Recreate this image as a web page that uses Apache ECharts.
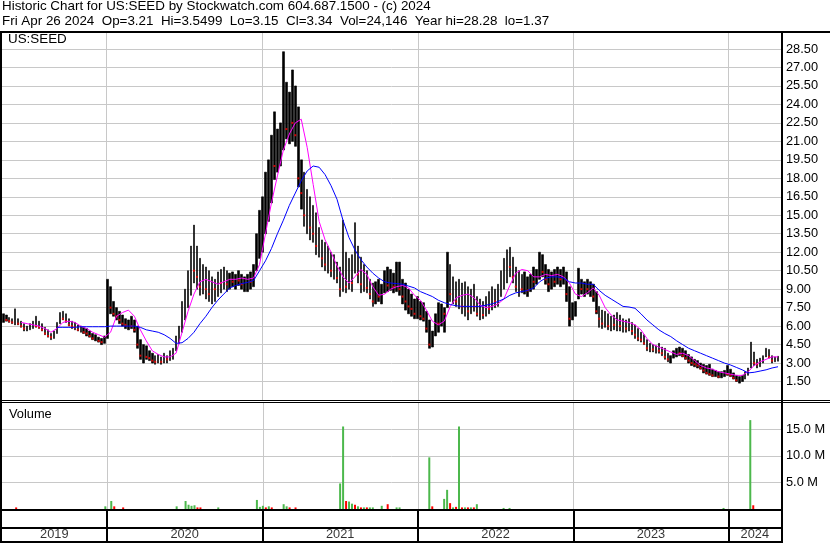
<!DOCTYPE html>
<html><head><meta charset="utf-8">
<script src="https://cdn.jsdelivr.net/npm/echarts@6/dist/echarts.min.js"></script>
<style>html,body{margin:0;padding:0;background:#fff}#c{width:830px;height:543px}</style>
</head><body><div id="c"></div>
<script>
const titleLine1 = 'Historic Chart for US:SEED by Stockwatch.com 604.687.1500 - (c) 2024';
const titleLine2 = 'Fri Apr 26 2024  Op=3.21  Hi=3.5499  Lo=3.15  Cl=3.34  Vol=24,146  Year hi=28.28  lo=1.37';
const symbolName = 'US:SEED';
const volumeName = 'Volume';
const years = [2019, 2020, 2021, 2022, 2023, 2024];
const priceStep = 1.5;
const volStep = 5;
const volLabelMax = 15;

// weekly bars, first week ending Fri 2019-05-03, last week ending Fri 2024-04-26
const wkLow = [
 6.3,6.4,6.3,6.2,6.1,6.1,5.9,5.6,5.6,5.7,
 5.8,5.9,5.8,5.6,5.3,5.1,4.9,5.0,5.4,6.2,
 6.5,6.3,6.0,5.8,5.7,5.6,5.5,5.4,5.2,5.1,
 4.9,4.8,4.7,4.5,4.6,5.0,7.0,6.8,6.5,6.2,
 6.0,5.8,5.7,5.8,5.5,4.2,3.3,3.0,3.3,3.2,
 3.0,2.9,3.0,2.9,3.0,3.0,3.2,3.3,4.0,4.6,
 5.5,6.5,7.5,8.5,9.5,9.0,8.5,8.6,8.2,8.0,
 7.8,8.0,8.4,8.7,9.0,8.8,9.0,9.2,9.0,9.3,
 9.0,8.8,8.8,9.0,9.2,10.5,11.5,12.0,13.5,14.5,
 16.0,17.9,18.5,19.0,20.3,21.2,20.8,21.0,20.6,17.3,
 15.5,14.1,13.5,13.0,12.8,11.8,11.6,10.8,10.5,10.3,
 10.0,9.8,9.5,8.4,8.8,8.7,9.0,8.8,10.3,9.5,
 8.7,8.8,8.7,8.2,7.6,7.8,8.0,7.8,8.7,8.8,
 8.9,8.7,8.8,8.5,7.8,7.3,7.0,6.8,6.6,6.6,
 6.5,6.4,5.5,4.2,4.3,5.2,5.5,6.0,5.5,7.5,
 8.0,7.8,7.6,7.4,7.0,6.8,6.5,7.0,7.2,6.8,
 6.5,6.6,6.8,7.0,7.3,7.5,7.6,8.4,9.0,9.5,
 10.0,9.5,8.8,8.4,8.7,8.6,8.4,8.8,9.0,9.4,
 9.8,10.0,9.4,8.8,9.0,9.2,9.4,9.2,9.4,8.0,
 6.0,6.5,6.8,8.2,8.6,8.4,8.6,8.4,8.0,7.0,
 5.9,5.8,5.9,5.7,5.6,5.7,5.6,5.6,5.5,5.5,
 5.6,5.3,5.0,4.8,4.7,4.5,4.0,3.9,3.9,3.8,
 3.8,3.6,3.3,3.1,3.0,3.4,3.5,3.6,3.5,3.3,
 3.0,2.8,2.7,2.6,2.5,2.2,2.1,2.0,1.9,1.9,
 1.8,1.8,1.9,2.0,1.9,1.7,1.5,1.37,1.5,1.7,
 2.0,2.6,2.8,2.6,2.7,3.0,3.5,3.4,3.0,3.1,
 3.15];
const wkHigh = [
 7.0,6.9,6.7,6.6,7.4,6.6,6.4,6.2,6.0,6.2,
 6.4,6.8,6.4,6.2,5.9,5.7,5.4,5.6,6.3,7.1,
 7.2,7.0,6.6,6.4,6.3,6.1,6.0,5.9,5.8,5.6,
 5.4,5.3,5.1,5.0,5.2,9.8,9.2,8.0,7.5,7.2,
 6.9,6.6,6.5,6.8,6.5,6.0,4.9,4.5,4.4,4.0,
 3.8,3.6,3.7,3.5,3.8,3.6,4.0,4.2,5.2,6.0,
 8.0,9.0,10.5,12.5,14.2,12.5,11.5,11.0,10.8,10.5,
 10.0,9.8,10.4,10.6,10.8,10.5,10.3,10.4,10.2,10.5,
 10.2,10.0,10.2,10.4,11.0,13.5,15.4,16.5,18.5,19.5,
 21.5,23.4,22.0,22.5,28.28,25.8,25.0,26.8,25.5,23.8,
 19.5,18.5,17.1,16.5,15.8,15.2,14.0,13.0,12.8,12.5,
 12.0,11.8,11.2,10.8,14.6,12.0,11.5,11.8,14.4,12.5,
 11.6,11.0,10.5,9.8,9.5,9.6,9.8,9.4,10.5,10.8,
 10.6,10.3,11.2,11.2,9.8,9.5,9.0,8.6,8.2,8.4,
 8.0,7.9,7.2,6.5,5.6,7.0,7.9,7.8,7.5,12.0,
 11.0,10.0,9.6,9.8,9.5,9.6,9.2,9.0,9.4,8.4,
 8.2,8.0,8.4,8.8,9.2,9.0,9.4,10.5,11.5,12.2,
 12.4,11.6,10.8,10.5,10.2,10.4,10.0,10.2,10.8,10.6,
 12.0,11.8,11.0,10.6,10.4,10.6,10.8,10.6,10.8,10.4,
 9.2,7.9,8.0,10.7,9.8,9.6,9.8,9.6,9.4,8.8,
 7.6,7.3,7.2,7.0,6.8,6.9,7.1,6.9,6.6,6.5,
 6.6,6.3,6.1,5.8,5.5,5.3,4.9,4.6,4.5,4.4,
 4.6,4.3,4.2,3.8,3.6,4.0,4.2,4.3,4.2,4.0,
 3.7,3.5,3.3,3.2,3.0,2.9,2.8,2.9,2.5,2.4,
 2.3,2.3,2.4,2.8,2.5,2.2,2.0,1.9,2.0,2.3,
 2.6,4.7,3.9,3.3,3.4,3.6,4.2,4.1,3.6,3.5,
 3.5499];
const wkClose = [
 6.6,6.5,6.4,6.3,6.4,6.2,6.0,5.8,5.9,6.0,
 6.1,6.0,5.9,5.7,5.4,5.2,5.1,5.5,6.2,6.8,
 6.6,6.4,6.1,6.0,5.9,5.7,5.8,5.5,5.4,5.2,
 5.0,5.0,4.8,4.7,5.0,8.2,7.5,7.0,6.8,6.5,
 6.2,6.1,6.2,6.0,5.7,4.5,3.6,3.8,3.5,3.4,
 3.2,3.1,3.3,3.1,3.4,3.3,3.7,4.0,4.9,5.8,
 7.5,8.2,9.8,11.0,10.5,10.0,9.2,10.2,9.0,8.6,
 9.4,9.0,9.8,9.5,10.1,9.4,9.8,9.6,9.9,9.7,
 9.4,9.5,9.9,9.6,10.8,12.8,13.6,15.8,16.4,18.8,
 20.2,19.0,20.5,21.8,23.5,22.0,24.2,22.5,21.5,18.0,
 16.8,15.0,16.2,14.0,13.5,12.5,12.8,11.5,11.0,11.6,
 10.5,10.8,9.9,9.0,10.2,9.2,10.6,9.5,11.8,10.2,
 9.4,10.0,9.1,8.6,8.0,9.0,8.4,9.0,9.6,9.3,
 10.0,9.2,10.4,9.0,8.4,8.0,7.6,7.4,7.0,7.2,
 6.8,6.6,5.8,4.5,5.2,6.5,6.2,7.2,7.0,9.5,
 8.6,9.2,8.0,8.8,7.6,8.4,7.2,8.2,7.6,7.0,
 7.4,6.9,7.8,7.4,8.6,8.0,9.0,10.0,10.6,11.8,
 10.8,10.0,9.2,9.8,9.0,9.6,8.9,9.8,9.6,10.2,
 11.2,10.4,9.8,9.4,10.0,9.6,10.2,9.8,10.3,8.6,
 6.6,7.4,7.8,9.2,9.0,9.3,9.0,9.2,8.4,7.2,
 6.6,6.2,6.8,6.0,6.4,6.1,6.6,6.0,6.2,5.8,
 6.1,5.6,5.3,5.0,4.9,4.6,4.2,4.3,4.1,4.2,
 4.0,3.8,3.5,3.3,3.5,3.8,3.9,3.8,3.6,3.4,
 3.2,3.0,2.9,2.8,2.6,2.4,2.2,2.1,2.0,2.1,
 1.9,2.0,2.2,2.1,2.0,1.8,1.6,1.6,1.8,2.1,
 2.5,3.4,3.0,2.9,3.2,3.5,3.8,3.5,3.2,3.3,
 3.34];

// moving averages, read every second week (null = not drawn yet)
const maPink = [
 null,null,null,6.3,6.2,6.1,6.0,5.8,5.5,5.8,
 6.3,6.4,6.3,6.0,5.8,5.5,5.3,5.1,5.5,6.8,
 7.1,7.3,6.8,5.7,4.8,4.0,3.7,3.5,3.5,3.8,
 5.5,7.2,8.6,9.6,9.8,9.6,9.4,9.6,9.8,9.8,
 9.9,9.8,9.9,11.0,13.5,16.0,18.2,20.3,21.6,22.5,
 22.8,20.5,17.5,14.5,13.0,12.0,10.9,10.0,9.5,10.0,
 10.6,10.2,9.2,8.5,8.6,9.0,9.2,9.3,9.1,8.5,
 8.1,7.3,6.4,6.1,6.4,7.6,8.3,8.5,8.6,8.3,
 7.7,7.5,7.6,7.8,8.2,9.3,10.3,10.6,10.5,10.0,
 10.0,10.2,10.1,10.2,10.0,9.5,8.6,8.4,8.7,9.1,
 8.5,7.5,6.9,6.5,6.4,6.3,6.1,5.7,5.0,4.5,
 4.3,4.1,3.9,3.7,3.8,3.6,3.2,2.8,2.6,2.5,
 2.3,2.2,2.1,2.0,2.0,2.3,2.8,3.1,3.3,3.5,
 3.5];
const maBlue = [
 null,null,null,null,null,null,null,null,null,5.9,
 5.9,5.9,5.9,5.95,5.95,5.95,5.95,5.95,6.0,6.0,
 6.0,6.0,6.0,5.9,5.7,5.6,5.5,5.3,5.0,4.6,
 4.65,5.0,5.5,6.2,6.8,7.5,8.1,8.6,9.1,9.3,
 9.45,9.55,9.7,10.5,11.3,12.3,13.5,14.6,15.8,16.8,
 17.8,18.6,19.0,18.9,18.3,17.4,16.3,14.6,13.2,12.2,
 11.4,10.8,10.3,9.9,9.6,9.5,9.45,9.4,9.25,9.1,
 8.8,8.6,8.4,8.1,7.9,7.75,7.65,7.6,7.6,7.6,
 7.6,7.7,7.8,8.0,8.2,8.5,8.7,8.8,8.9,9.1,
 9.6,9.9,10.0,10.0,9.9,9.6,9.5,9.5,9.4,9.4,
 8.9,8.5,8.2,7.9,7.6,7.55,7.45,7.0,6.5,6.1,
 5.7,5.4,5.15,4.8,4.5,4.2,4.0,3.8,3.6,3.4,
 3.2,3.0,2.85,2.65,2.45,2.2,2.25,2.35,2.45,2.6,
 2.7];

// visible volume bars (millions), by week number
const volUpWeek = [34,36,58,61,62,63,64,72,85,86,87,89,94,95,113,114,116,117,119,121,123,124,127,132,133,143,148,149,151,153,155,157,159,168,170,242,251];
const volUpM    = [0.5,1.5,0.5,1.5,0.8,0.6,0.7,0.3,1.7,0.4,0.6,0.5,0.9,0.5,4.8,15.5,1.4,1.0,0.5,0.3,0.3,0.3,0.6,0.3,0.3,9.7,1.9,3.6,0.3,15.5,0.3,0.3,0.9,0.2,0.2,0.2,16.7];
const volDnWeek = [4,37,40,65,66,88,90,96,98,115,118,120,122,129,144,150,152,154,156,158,252];
const volDnM    = [0.3,0.5,0.3,0.3,0.3,0.3,0.3,0.3,0.3,1.5,0.8,0.3,0.3,0.9,0.5,1.1,0.4,0.3,0.3,0.3,0.7];

const FONT = 'Liberation Sans, Arial, sans-serif';
function weekTime(k) { return new Date(2019, 4, 3 + 7 * k).getTime(); }
const xMin = new Date(2019, 3, 30).getTime();
const xMax = new Date(2024, 4, 3).getTime();

// each week drawn as a solid low-high stroke, with a red close tick on down weeks
const bars = [], redDots = [];
for (let k = 0; k < wkLow.length; k++) {
  const t = weekTime(k);
  bars.push([t, wkLow[k], wkHigh[k], wkLow[k], wkHigh[k]]);
  const prev = k ? wkClose[k - 1] : wkClose[k];
  if (wkClose[k] < prev) redDots.push([t, wkClose[k]]);
}
const pinkData = [], blueData = [];
maPink.forEach((v, i) => { if (v != null) pinkData.push([weekTime(2 * i), v]); });
maBlue.forEach((v, i) => { if (v != null) blueData.push([weekTime(2 * i), v]); });
const volData = [];
volUpWeek.forEach((k, i) => volData.push({ value: [weekTime(k), volUpM[i]], itemStyle: { color: '#4cb84c' } }));
volDnWeek.forEach((k, i) => volData.push({ value: [weekTime(k), volDnM[i]], itemStyle: { color: '#ff0000' } }));

const yearLabels = years.map(y => {
  const a = Math.max(new Date(y, 0, 1).getTime(), xMin);
  const b = Math.min(new Date(y + 1, 0, 1).getTime(), xMax);
  return { name: String(y), value: [(a + b) / 2, 0.5] };
});

function isStep(v, s) { return v > 0 && Math.abs(v / s - Math.round(v / s)) < 1e-6; }

const grids = [
  { left: 2, top: 33, width: 779, height: 367 },
  { left: 2, top: 402, width: 779, height: 107 },
  { left: 2, top: 510, width: 779, height: 17 },
  { left: 2, top: 527, width: 779, height: 14 }
];
const xAxes = grids.map((g, i) => ({
  type: 'time', gridIndex: i, min: xMin, max: xMax,
  splitNumber: 5, minInterval: 360 * 864e5,
  axisLine: { show: false }, axisTick: { show: false }, axisLabel: { show: false },
  splitLine: { show: true, showMinLine: false, showMaxLine: false,
    lineStyle: { color: i < 2 ? '#c8c8c8' : '#000', width: i < 2 ? 1 : 2 } }
}));
const labelStyle = { color: '#000', fontSize: 12.8, fontFamily: FONT, margin: 5 };

const option = {
  animation: false,
  backgroundColor: '#fff',
  title: [
    { text: titleLine1, left: 2, top: 0, padding: 0, textStyle: { fontSize: 13.4, fontWeight: 'normal', color: '#000', fontFamily: FONT } },
    { text: titleLine2, left: 2, top: 15, padding: 0, textStyle: { fontSize: 13.4, fontWeight: 'normal', color: '#000', fontFamily: FONT } },
    { text: symbolName, left: 8, top: 33, padding: 0, textStyle: { fontSize: 13.4, fontWeight: 'normal', color: '#000', fontFamily: FONT } },
    { text: volumeName, left: 9, top: 408, padding: 0, textStyle: { fontSize: 12.8, fontWeight: 'normal', color: '#000', fontFamily: FONT } }
  ],
  grid: grids,
  xAxis: xAxes,
  yAxis: [
    { gridIndex: 0, type: 'value', position: 'right', min: 0, max: 29.8, interval: priceStep,
      axisLine: { show: false }, axisTick: { show: false },
      axisLabel: Object.assign({ formatter: v => isStep(v, priceStep) ? v.toFixed(2) : '' }, labelStyle),
      splitLine: { show: true, showMinLine: false, showMaxLine: false, lineStyle: { color: '#c8c8c8' } } },
    { gridIndex: 1, type: 'value', position: 'right', min: 0, max: 20.1, interval: volStep,
      axisLine: { show: false }, axisTick: { show: false },
      axisLabel: Object.assign({ formatter: v => (isStep(v, volStep) && v <= volLabelMax) ? v.toFixed(1) + ' M' : '' }, labelStyle),
      splitLine: { show: true, showMinLine: false, showMaxLine: false, lineStyle: { color: '#c8c8c8' } } },
    { gridIndex: 2, type: 'value', min: 0, max: 1, show: false },
    { gridIndex: 3, type: 'value', min: 0, max: 1, show: false }
  ],
  series: [
    { type: 'candlestick', xAxisIndex: 0, yAxisIndex: 0, data: bars, barWidth: 2,
      encode: { x: 0, y: [1, 2, 3, 4] },
      itemStyle: { color: '#000', color0: '#000', borderColor: '#000', borderColor0: '#000', borderWidth: 0.6 } },
    { type: 'scatter', xAxisIndex: 0, yAxisIndex: 0, data: redDots, symbol: 'rect', symbolSize: 2,
      itemStyle: { color: '#ff0000' }, z: 3 },
    { type: 'line', xAxisIndex: 0, yAxisIndex: 0, data: pinkData, showSymbol: false,
      lineStyle: { color: '#ff00ff', width: 1 }, z: 4 },
    { type: 'line', xAxisIndex: 0, yAxisIndex: 0, data: blueData, showSymbol: false,
      lineStyle: { color: '#0000ff', width: 1 }, z: 4 },
    { type: 'bar', xAxisIndex: 1, yAxisIndex: 1, data: volData, barWidth: 2 },
    { type: 'scatter', xAxisIndex: 3, yAxisIndex: 3, data: yearLabels, symbolSize: 1,
      itemStyle: { color: 'rgba(0,0,0,0)' },
      label: { show: true, position: 'inside', formatter: '{b}', color: '#000', fontSize: 12.8, fontFamily: FONT } }
  ],
  graphic: [
    { type: 'line', shape: { x1: 0, y1: 32, x2: 830, y2: 32 }, style: { stroke: '#000', lineWidth: 2 }, z: 100 },
    { type: 'line', shape: { x1: 1, y1: 31, x2: 1, y2: 543 }, style: { stroke: '#000', lineWidth: 2 }, z: 100 },
    { type: 'line', shape: { x1: 782, y1: 31, x2: 782, y2: 543 }, style: { stroke: '#000', lineWidth: 2 }, z: 100 },
    { type: 'line', shape: { x1: 0, y1: 400.5, x2: 830, y2: 400.5 }, style: { stroke: '#000', lineWidth: 1 }, z: 100 },
    { type: 'line', shape: { x1: 0, y1: 402.5, x2: 830, y2: 402.5 }, style: { stroke: '#000', lineWidth: 1 }, z: 100 },
    { type: 'line', shape: { x1: 0, y1: 510, x2: 783, y2: 510 }, style: { stroke: '#000', lineWidth: 2 }, z: 100 },
    { type: 'line', shape: { x1: 0, y1: 528, x2: 783, y2: 528 }, style: { stroke: '#000', lineWidth: 2 }, z: 100 },
    { type: 'line', shape: { x1: 0, y1: 542, x2: 783, y2: 542 }, style: { stroke: '#000', lineWidth: 2 }, z: 100 }
  ]
};
const chart = echarts.init(document.getElementById('c'), null, { renderer: 'canvas' });
chart.setOption(option);
</script></body></html>
